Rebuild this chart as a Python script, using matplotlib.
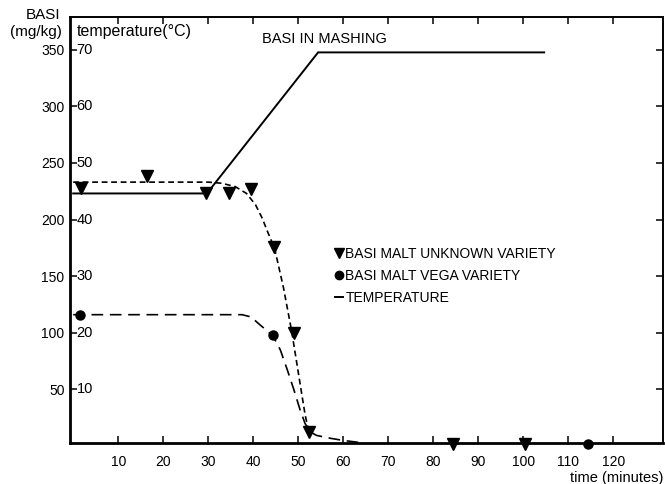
import numpy as np
import matplotlib.pyplot as plt
from matplotlib.lines import Line2D

plt.rcParams['font.family'] = ['Liberation Sans', 'DejaVu Sans']

# BASI malt, unknown variety (mg/kg) - measured points
unknown_t = [1.7, 16.4, 29.4, 34.6, 39.6, 44.7, 49.0, 52.4, 84.4, 100.4]
unknown_basi = [228, 238, 223, 223, 227, 176, 100, 12.6, 2, 2]

# BASI malt, Vega variety (mg/kg) - measured points
vega_t = [1.6, 44.4, 114.3]
vega_basi = [116, 98, 2]

# hand-drawn trend curves
unknown_curve_t = [0, 30, 33, 36, 38.5, 40.5, 42, 43.3, 44.7, 46.7, 48.5, 50.4, 51.5, 52.2]
unknown_curve_basi = [233, 233, 232, 229, 223, 213, 201, 188, 175, 140, 102, 55, 28, 15]

vega_curve_t = [0, 37.5, 39.5, 41.5, 43, 44.4, 46, 47.5, 49, 50.4, 51.5, 52.5, 54, 57, 60, 64]
vega_curve_basi = [116, 116, 114, 107, 102, 97, 85, 68, 50, 32, 20, 13, 9.5, 7, 5, 3]

# mashing temperature profile (deg C)
temp_t = [0, 29.7, 54.4, 104.6]
temp_c = [44.6, 44.6, 69.5, 69.5]

basi_ticks = [50, 100, 150, 200, 250, 300, 350]
temp_ticks = [10, 20, 30, 40, 50, 60, 70]
time_ticks = [10, 20, 30, 40, 50, 60, 70, 80, 90, 100, 110, 120]

fig = plt.figure(figsize=(6.65, 4.84), dpi=100)
ax = fig.add_axes([0.1053, 0.0853, 0.8917, 0.8802])

# temperature is drawn on the BASI scale: 70 C <-> 350 mg/kg
temp_scaled = [v * 5 for v in temp_c]
ax.plot(temp_t, temp_scaled, color='black', lw=1.4, solid_joinstyle='miter')

ax.plot(unknown_curve_t, unknown_curve_basi, color='black', lw=1.2,
        linestyle=(0, (3.5, 2.2)))
ax.plot(vega_curve_t, vega_curve_basi, color='black', lw=1.2,
        linestyle=(0, (7, 4)))

ax.plot(unknown_t, unknown_basi, 'kv', markersize=8, clip_on=False, zorder=5)
ax.plot(vega_t, vega_basi, 'ko', markersize=6.5, clip_on=False, zorder=5)

ax.set_xlim(-0.7, 131)
ax.set_ylim(3, 379)

ax.set_xticks(time_ticks)
ax.set_yticks(basi_ticks)
ax.tick_params(axis='both', direction='in', length=5, width=1.1,
               labelsize=10, top=True, right=True)
ax.tick_params(axis='x', pad=9)
ax.tick_params(axis='y', pad=4)

for side in ['left', 'bottom']:
    ax.spines[side].set_linewidth(2.0)
for side in ['top', 'right']:
    ax.spines[side].set_linewidth(1.4)

# temperature scale labels inside the left spine
for tv in temp_ticks:
    ax.text(0.011, tv * 5, str(tv), transform=ax.get_yaxis_transform(),
            ha='left', va='center', fontsize=10.5)

ax.text(0.011, 0.965, 'temperature(\u00b0C)', transform=ax.transAxes,
        ha='left', va='center', fontsize=11.5)
fig.text(0.065, 0.969, 'BASI', ha='center', va='center', fontsize=11)
fig.text(0.054, 0.934, '(mg/kg)', ha='center', va='center', fontsize=11)
fig.text(0.998, 0.012, 'time (minutes)', ha='right', va='center', fontsize=10.5)

ax.text(41.9, 359, 'BASI IN MASHING', ha='left', va='center', fontsize=10.5)

handles = [
    Line2D([], [], color='black', marker='v', linestyle='none', markersize=7),
    Line2D([], [], color='black', marker='o', linestyle='none', markersize=6),
    Line2D([], [], color='black', linestyle='-', lw=1.4),
]
labels = ['BASI MALT UNKNOWN VARIETY', 'BASI MALT VEGA VARIETY', 'TEMPERATURE']
ax.legend(handles, labels, loc='upper left', bbox_to_anchor=(0.435, 0.475),
          frameon=False, fontsize=10, handlelength=0.6, handletextpad=0.15,
          labelspacing=0.55, borderpad=0)

fig.savefig('out.png', dpi=100)
